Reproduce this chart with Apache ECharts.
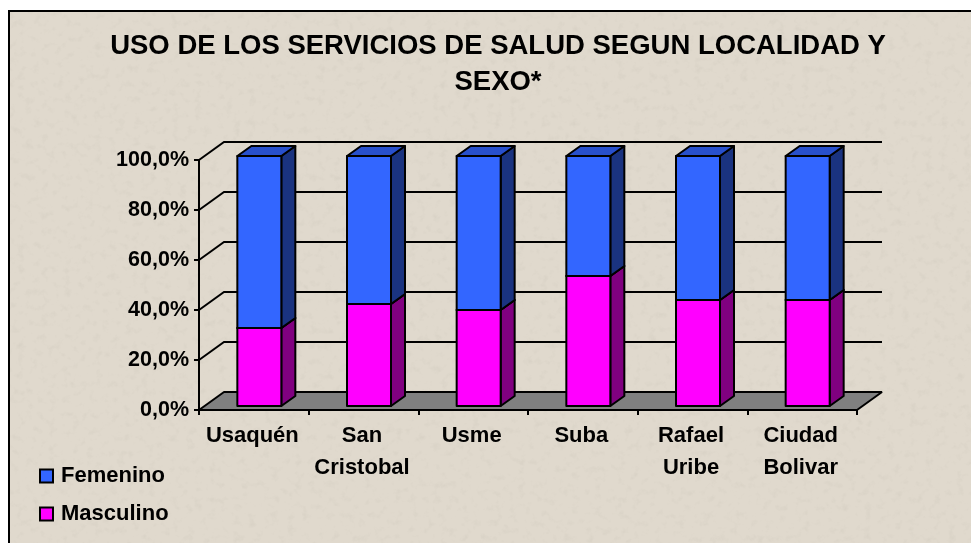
<!DOCTYPE html>
<html>
<head>
<meta charset="utf-8">
<style>
html,body{margin:0;padding:0;background:#fff;width:971px;height:543px;overflow:hidden}
#frame{position:absolute;left:8px;top:10px;width:963px;height:533px;box-sizing:border-box;border-left:2px solid #000;border-top:2px solid #000;
background-color:#e0d9cd;
background-image:url("data:image/svg+xml;utf8,<svg xmlns='http://www.w3.org/2000/svg' width='971' height='543'><filter id='n' x='0' y='0' width='100%' height='100%'><feTurbulence type='fractalNoise' baseFrequency='0.13' numOctaves='3' seed='11'/><feColorMatrix values='0 0 0 0 0.50  0 0 0 0 0.47  0 0 0 0 0.40  1.6 0 0 0 -0.85'/></filter><rect width='971' height='543' filter='url(%23n)' opacity='0.3'/></svg>");}
#chart{position:absolute;left:0;top:0;width:971px;height:543px}
</style>
<script src="https://cdn.jsdelivr.net/npm/echarts@6/dist/echarts.min.js"></script>
</head>
<body>
<div id="frame"></div>
<div id="chart"></div>
<script>
const titleText = 'USO DE LOS SERVICIOS DE SALUD SEGUN LOCALIDAD Y\nSEXO*';
const categories = ['Usaquén', 'San\nCristobal', 'Usme', 'Suba', 'Rafael\nUribe', 'Ciudad\nBolivar'];
const masculino = [31.2, 40.8, 38.4, 52.0, 42.4, 42.4];
const femenino  = [68.8, 59.2, 61.6, 48.0, 57.6, 57.6];
const yTicks = [0, 20, 40, 60, 80, 100];

const FONT = '"Liberation Sans", Arial, sans-serif';
const WALL = [25, -18];   // projection of chart depth
const BAR_IN = [5.5, -4]; // bar's front plane relative to the axis plane
const BAR_D = [14, -10];  // bar's own depth
const BAR_W = 44;

function wallItem(params, api) {
  const cs = params.coordSys, v = api.value(0);
  const y = api.coord([0, v])[1], x0 = cs.x, x1 = cs.x + cs.width;
  const lineStyle = {stroke:'#000', lineWidth:2, fill:null};
  const kids = [];
  if (v === 0) {
    kids.push({type:'polygon', shape:{points:[[x0,y],[x0+WALL[0],y+WALL[1]],[x1+WALL[0],y+WALL[1]],[x1,y]]},
      style:{fill:'#808080', stroke:'#000', lineWidth:2, lineJoin:'bevel'}});
  } else {
    kids.push({type:'polyline', shape:{points:[[x0,y],[x0+WALL[0],y+WALL[1]],[x1+WALL[0],y+WALL[1]]]}, style:lineStyle});
  }
  return {type:'group', children:kids};
}
function barItem(front, side, top) {
  return function (params, api) {
    const i = api.value(0);
    const c0 = api.coord([i, api.value(1)]), c1 = api.coord([i, api.value(2)]);
    const x = c0[0] - BAR_W/2 + BAR_IN[0], xr = x + BAR_W;
    const yb = c0[1] + BAR_IN[1], yt = c1[1] + BAR_IN[1];
    const dx = BAR_D[0], dy = BAR_D[1];
    const st = f => ({fill:f, stroke:'#000', lineWidth:2, lineJoin:'round'});
    return {type:'group', children:[
      {type:'polygon', shape:{points:[[xr,yb],[xr+dx,yb+dy],[xr+dx,yt+dy],[xr,yt]]}, style:st(side)},
      {type:'polygon', shape:{points:[[x,yt],[x+dx,yt+dy],[xr+dx,yt+dy],[xr,yt]]}, style:st(top)},
      {type:'polygon', shape:{points:[[x,yb],[x,yt],[xr,yt],[xr,yb]]}, style:st(front)}
    ]};
  };
}
const masData = masculino.map((v,i)=>[i,0,v]);
const femData = femenino.map((v,i)=>[i,masculino[i],masculino[i]+v]);

const chart = echarts.init(document.getElementById('chart'), null, {renderer:'canvas'});
chart.setOption({
  animation:false,
  backgroundColor:'transparent',
  title:{text:titleText, left:493, top:23, textAlign:'center',
    textStyle:{fontFamily:FONT, fontWeight:'bold', fontSize:27.5, lineHeight:36, color:'#000'}},
  legend:{orient:'vertical', left:34, top:459, itemWidth:13, itemHeight:13, itemGap:14, icon:'rect',
    data:['Femenino','Masculino'],
    itemStyle:{borderColor:'#000', borderWidth:2},
    textStyle:{fontFamily:FONT, fontWeight:'bold', fontSize:22, lineHeight:24, color:'#000', padding:[0,0,0,3]}},
  grid:{left:199, top:160, right:114, bottom:133, containLabel:false},
  xAxis:{type:'category', data:categories, boundaryGap:true,
    axisLine:{show:true, onZero:false, lineStyle:{color:'#000', width:2}},
    axisTick:{show:true, alignWithLabel:false, length:5, lineStyle:{color:'#000', width:2}},
    axisLabel:{interval:0, margin:10, padding:[0,3,0,0], fontFamily:FONT, fontWeight:'bold', fontSize:22, lineHeight:32, color:'#000'},
    splitLine:{show:false}},
  yAxis:{type:'value', min:0, max:100, interval:20,
    axisLine:{show:true, lineStyle:{color:'#000', width:2}},
    axisTick:{show:true, length:5, lineStyle:{color:'#000', width:2}},
    axisLabel:{margin:10, padding:[3,0,0,0], fontFamily:FONT, fontWeight:'bold', fontSize:21.5, color:'#000',
      formatter:v=>v.toFixed(1).replace('.',',')+'%'},
    splitLine:{show:false}},
  series:[
    {type:'custom', name:'wall', silent:true, z:1, data:yTicks.map(v=>[v]), renderItem:wallItem, encode:{y:0}, coordinateSystem:'cartesian2d', clip:false},
    {type:'custom', name:'Masculino', z:3, coordinateSystem:'cartesian2d', itemStyle:{color:'#ff00ff'}, data:masData, encode:{x:0,y:[1,2]}, renderItem:barItem('#ff00ff','#800080','#cc00cc'), clip:false},
    {type:'custom', name:'Femenino', z:4, coordinateSystem:'cartesian2d', itemStyle:{color:'#3366ff'}, data:femData, encode:{x:0,y:[1,2]}, renderItem:barItem('#3366ff','#1a3380','#2850cc'), clip:false}
  ]
});
</script>
</body>
</html>
